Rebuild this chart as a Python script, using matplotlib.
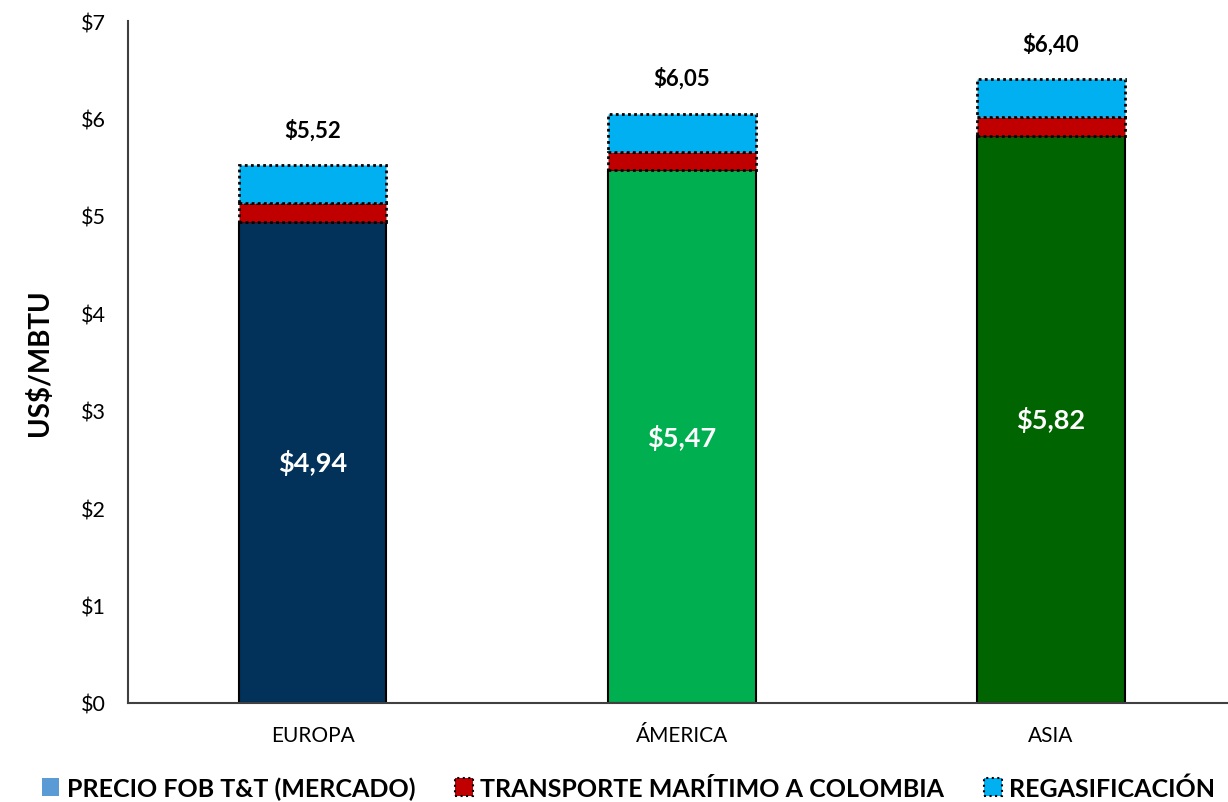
import matplotlib
matplotlib.use("Agg")
import matplotlib.pyplot as plt
from matplotlib.patches import Patch
from matplotlib.ticker import FuncFormatter

categories = ["EUROPA", "ÁMERICA", "ASIA"]
precio_fob = [4.94, 5.47, 5.82]
transporte = [0.19, 0.19, 0.19]
regasificacion = [0.39, 0.39, 0.39]
totales = [5.52, 6.05, 6.40]
base_colors = ["#02315A", "#00B050", "#006400"]
legend_labels = ["PRECIO FOB T&T (MERCADO)", "TRANSPORTE MARÍTIMO A COLOMBIA", "REGASIFICACIÓN"]

plt.rcParams['font.family'] = ['Lato', 'DejaVu Sans']

fig = plt.figure(figsize=(12.28, 8.03), dpi=100)
ax = fig.add_axes([128/1228, 1 - 704/803, 1100/1228, (704-22)/803])

x = list(range(len(categories)))
w = 0.40
ax.bar(x, precio_fob, width=w, color=base_colors, edgecolor="black", linewidth=1.5, zorder=2)
bottom2 = precio_fob
ax.bar(x, transporte, width=w, bottom=bottom2, color="#C00000", edgecolor="black",
       linewidth=2, linestyle=(0, (1, 1.2)), zorder=3)
bottom3 = [a + b for a, b in zip(precio_fob, transporte)]
ax.bar(x, regasificacion, width=w, bottom=bottom3, color="#00B0F0", edgecolor="black",
       linewidth=2, linestyle=(0, (1, 1.2)), zorder=3)

for xi, v in zip(x, precio_fob):
    ax.text(xi, v / 2, f"${v:.2f}".replace(".", ","), ha="center", va="center",
            color="white", fontsize=19.5, fontweight="bold")
for xi, t in zip(x, totales):
    ax.text(xi, t + 0.37, f"${t:.2f}".replace(".", ","), ha="center", va="center",
            color="black", fontsize=16, fontweight="bold")

ax.set_ylim(0, 7)
ax.set_xlim(-0.5, 2.48)
ax.set_yticks(range(0, 8))
ax.yaxis.set_major_formatter(FuncFormatter(lambda v, p: f"${int(v)}"))
ax.set_xticks(x)
ax.set_xticklabels(categories)
ax.tick_params(axis="both", length=0, labelsize=15.5, pad=16)
ax.tick_params(axis="x", labelsize=15, pad=16)
for s in ["top", "right"]:
    ax.spines[s].set_visible(False)
ax.spines["left"].set_color("#404040")
ax.spines["bottom"].set_color("#404040")
ax.spines["left"].set_linewidth(1.5)
ax.spines["bottom"].set_linewidth(1.5)
ax.set_ylabel("US$/MBTU", fontsize=20, fontweight="bold", labelpad=20)

handles = [
    Patch(facecolor="#5B9BD5", edgecolor="none"),
    Patch(facecolor="#C00000", edgecolor="black", linestyle=":", linewidth=1.5),
    Patch(facecolor="#00B0F0", edgecolor="black", linestyle=":", linewidth=1.5),
]
leg = fig.legend(handles, legend_labels, loc="center", bbox_to_anchor=(0.512, 1 - 789/803),
                 ncol=3, frameon=False, handlelength=0.7, handleheight=0.7,
                 handletextpad=0.3, columnspacing=1.6,
                 prop={"weight": "bold", "size": 18})

fig.savefig("out.png", dpi=100)
